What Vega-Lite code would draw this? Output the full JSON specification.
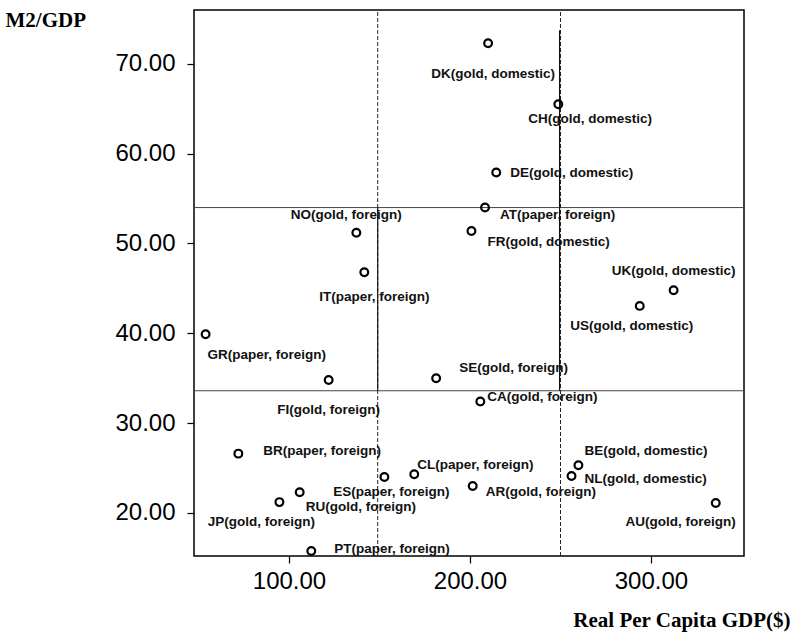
{
  "$schema": "https://vega.github.io/schema/vega-lite/v6.json",
  "width": 550,
  "height": 546,
  "autosize": "none",
  "padding": {"left": 194, "top": 10, "right": 50, "bottom": 79},
  "background": "white",
  "config": {
    "view": {"stroke": "#000", "strokeWidth": 1.5},
    "axis": {"grid": false, "domain": false, "tickColor": "#000", "tickSize": 7, "tickWidth": 1.2, "labelColor": "#000", "labelFont": "Liberation Sans", "labelFontSize": 24, "labelFontWeight": "normal", "titleColor": "#000", "titleFont": "Liberation Serif", "titleFontSize": 21, "titleFontWeight": "bold"}
  },
  "datasets": {
    "points": [
      {"code": "DK", "label": "DK(gold, domestic)", "gdp": 210.0, "m2": 72.3},
      {"code": "CH", "label": "CH(gold, domestic)", "gdp": 248.8, "m2": 65.5},
      {"code": "DE", "label": "DE(gold, domestic)", "gdp": 214.5, "m2": 57.9},
      {"code": "AT", "label": "AT(paper, foreign)", "gdp": 208.3, "m2": 54.0},
      {"code": "NO", "label": "NO(gold, foreign)", "gdp": 137.2, "m2": 51.2},
      {"code": "FR", "label": "FR(gold, domestic)", "gdp": 200.8, "m2": 51.4},
      {"code": "IT", "label": "IT(paper, foreign)", "gdp": 141.6, "m2": 46.8},
      {"code": "UK", "label": "UK(gold, domestic)", "gdp": 312.5, "m2": 44.8},
      {"code": "US", "label": "US(gold, domestic)", "gdp": 293.8, "m2": 43.05},
      {"code": "GR", "label": "GR(paper, foreign)", "gdp": 53.9, "m2": 39.9},
      {"code": "FI", "label": "FI(gold, foreign)", "gdp": 121.9, "m2": 34.8},
      {"code": "SE", "label": "SE(gold, foreign)", "gdp": 181.3, "m2": 35.0},
      {"code": "CA", "label": "CA(gold, foreign)", "gdp": 205.7, "m2": 32.4},
      {"code": "BR", "label": "BR(paper, foreign)", "gdp": 72.0, "m2": 26.6},
      {"code": "CL", "label": "CL(paper, foreign)", "gdp": 169.2, "m2": 24.3},
      {"code": "ES", "label": "ES(paper, foreign)", "gdp": 152.7, "m2": 24.0},
      {"code": "AR", "label": "AR(gold, foreign)", "gdp": 201.5, "m2": 23.0},
      {"code": "BE", "label": "BE(gold, domestic)", "gdp": 259.9, "m2": 25.3},
      {"code": "NL", "label": "NL(gold, domestic)", "gdp": 256.1, "m2": 24.1},
      {"code": "RU", "label": "RU(gold, foreign)", "gdp": 105.9, "m2": 22.3},
      {"code": "JP", "label": "JP(gold, foreign)", "gdp": 94.7, "m2": 21.2},
      {"code": "AU", "label": "AU(gold, foreign)", "gdp": 335.8, "m2": 21.1},
      {"code": "PT", "label": "PT(paper, foreign)", "gdp": 112.3, "m2": 15.75}
    ],
    "hlines": [
      {"m2": 54.0, "gdp": 47.5, "gdpEnd": 351.4},
      {"m2": 33.6, "gdp": 47.5, "gdpEnd": 351.4}
    ],
    "vdash": [
      {"gdp": 149, "m2": 15.2, "m2End": 76.0},
      {"gdp": 250, "m2": 15.2, "m2End": 76.0}
    ],
    "vsolid": [
      {"gdp": 149, "m2": 33.6, "m2End": 54.0},
      {"gdp": 249.5, "m2": 33.6, "m2End": 73.75}
    ]
  },
  "encoding": {
    "x": {"field": "gdp", "type": "quantitative", "scale": {"domain": [47.5, 351.4], "nice": false, "zero": false},
      "axis": {"values": [100, 200, 300], "format": ".2f", "labelPadding": 6, "title": "Real Per Capita GDP($)", "titleX": 596, "titleY": 64, "titleAlign": "right", "titleBaseline": "middle", "titleAnchor": null}},
    "y": {"field": "m2", "type": "quantitative", "scale": {"domain": [15.2, 76.0], "nice": false, "zero": false},
      "axis": {"values": [20, 30, 40, 50, 60, 70], "format": ".2f", "labelPadding": 12, "title": "M2/GDP", "titleAngle": 0, "titleX": -189, "titleY": 10, "titleAlign": "left", "titleBaseline": "middle", "titleAnchor": null}}
  },
  "layer": [
    {"data": {"name": "hlines"}, "mark": {"type": "rule", "stroke": "#444", "strokeWidth": 1}, "encoding": {"x2": {"field": "gdpEnd"}}},
    {"data": {"name": "vdash"}, "mark": {"type": "rule", "stroke": "#222", "strokeWidth": 1, "strokeDash": [4, 2]}, "encoding": {"y2": {"field": "m2End"}}},
    {"data": {"name": "vsolid"}, "mark": {"type": "rule", "stroke": "#111", "strokeWidth": 1.2}, "encoding": {"y2": {"field": "m2End"}}},
    {"data": {"name": "points"},
      "layer": [
        {"mark": {"type": "point", "shape": "circle", "filled": false, "stroke": "#000", "strokeWidth": 2.2, "size": 60, "opacity": 1}},
        {"transform": [{"filter": "datum.code=='DK'"}], "mark": {"type": "text", "align": "center", "baseline": "middle", "dx": 5, "dy": 31, "font": "Liberation Sans", "fontWeight": "bold", "fontSize": 13.5, "fill": "#111"}, "encoding": {"text": {"field": "label"}}},
        {"transform": [{"filter": "datum.code=='CH'"}], "mark": {"type": "text", "align": "left", "baseline": "middle", "dx": -30, "dy": 15, "font": "Liberation Sans", "fontWeight": "bold", "fontSize": 13.5, "fill": "#111"}, "encoding": {"text": {"field": "label"}}},
        {"transform": [{"filter": "datum.code=='DE'"}], "mark": {"type": "text", "align": "left", "baseline": "middle", "dx": 14, "dy": 0, "font": "Liberation Sans", "fontWeight": "bold", "fontSize": 13.5, "fill": "#111"}, "encoding": {"text": {"field": "label"}}},
        {"transform": [{"filter": "datum.code=='AT'"}], "mark": {"type": "text", "align": "left", "baseline": "middle", "dx": 15, "dy": 7, "font": "Liberation Sans", "fontWeight": "bold", "fontSize": 13.5, "fill": "#111"}, "encoding": {"text": {"field": "label"}}},
        {"transform": [{"filter": "datum.code=='NO'"}], "mark": {"type": "text", "align": "center", "baseline": "middle", "dx": -10, "dy": -18, "font": "Liberation Sans", "fontWeight": "bold", "fontSize": 13.5, "fill": "#111"}, "encoding": {"text": {"field": "label"}}},
        {"transform": [{"filter": "datum.code=='FR'"}], "mark": {"type": "text", "align": "left", "baseline": "middle", "dx": 16, "dy": 11, "font": "Liberation Sans", "fontWeight": "bold", "fontSize": 13.5, "fill": "#111"}, "encoding": {"text": {"field": "label"}}},
        {"transform": [{"filter": "datum.code=='IT'"}], "mark": {"type": "text", "align": "center", "baseline": "middle", "dx": 10, "dy": 25, "font": "Liberation Sans", "fontWeight": "bold", "fontSize": 13.5, "fill": "#111"}, "encoding": {"text": {"field": "label"}}},
        {"transform": [{"filter": "datum.code=='UK'"}], "mark": {"type": "text", "align": "center", "baseline": "middle", "dx": 0, "dy": -19, "font": "Liberation Sans", "fontWeight": "bold", "fontSize": 13.5, "fill": "#111"}, "encoding": {"text": {"field": "label"}}},
        {"transform": [{"filter": "datum.code=='US'"}], "mark": {"type": "text", "align": "center", "baseline": "middle", "dx": -8, "dy": 20, "font": "Liberation Sans", "fontWeight": "bold", "fontSize": 13.5, "fill": "#111"}, "encoding": {"text": {"field": "label"}}},
        {"transform": [{"filter": "datum.code=='GR'"}], "mark": {"type": "text", "align": "left", "baseline": "middle", "dx": 2, "dy": 21, "font": "Liberation Sans", "fontWeight": "bold", "fontSize": 13.5, "fill": "#111"}, "encoding": {"text": {"field": "label"}}},
        {"transform": [{"filter": "datum.code=='FI'"}], "mark": {"type": "text", "align": "center", "baseline": "middle", "dx": 0, "dy": 30, "font": "Liberation Sans", "fontWeight": "bold", "fontSize": 13.5, "fill": "#111"}, "encoding": {"text": {"field": "label"}}},
        {"transform": [{"filter": "datum.code=='SE'"}], "mark": {"type": "text", "align": "left", "baseline": "middle", "dx": 23, "dy": -10, "font": "Liberation Sans", "fontWeight": "bold", "fontSize": 13.5, "fill": "#111"}, "encoding": {"text": {"field": "label"}}},
        {"transform": [{"filter": "datum.code=='CA'"}], "mark": {"type": "text", "align": "left", "baseline": "middle", "dx": 7, "dy": -5, "font": "Liberation Sans", "fontWeight": "bold", "fontSize": 13.5, "fill": "#111"}, "encoding": {"text": {"field": "label"}}},
        {"transform": [{"filter": "datum.code=='BR'"}], "mark": {"type": "text", "align": "left", "baseline": "middle", "dx": 25, "dy": -3, "font": "Liberation Sans", "fontWeight": "bold", "fontSize": 13.5, "fill": "#111"}, "encoding": {"text": {"field": "label"}}},
        {"transform": [{"filter": "datum.code=='CL'"}], "mark": {"type": "text", "align": "left", "baseline": "middle", "dx": 3, "dy": -9, "font": "Liberation Sans", "fontWeight": "bold", "fontSize": 13.5, "fill": "#111"}, "encoding": {"text": {"field": "label"}}},
        {"transform": [{"filter": "datum.code=='ES'"}], "mark": {"type": "text", "align": "center", "baseline": "middle", "dx": 7, "dy": 15, "font": "Liberation Sans", "fontWeight": "bold", "fontSize": 13.5, "fill": "#111"}, "encoding": {"text": {"field": "label"}}},
        {"transform": [{"filter": "datum.code=='AR'"}], "mark": {"type": "text", "align": "left", "baseline": "middle", "dx": 13, "dy": 6, "font": "Liberation Sans", "fontWeight": "bold", "fontSize": 13.5, "fill": "#111"}, "encoding": {"text": {"field": "label"}}},
        {"transform": [{"filter": "datum.code=='BE'"}], "mark": {"type": "text", "align": "left", "baseline": "middle", "dx": 6, "dy": -14, "font": "Liberation Sans", "fontWeight": "bold", "fontSize": 13.5, "fill": "#111"}, "encoding": {"text": {"field": "label"}}},
        {"transform": [{"filter": "datum.code=='NL'"}], "mark": {"type": "text", "align": "left", "baseline": "middle", "dx": 13, "dy": 3, "font": "Liberation Sans", "fontWeight": "bold", "fontSize": 13.5, "fill": "#111"}, "encoding": {"text": {"field": "label"}}},
        {"transform": [{"filter": "datum.code=='RU'"}], "mark": {"type": "text", "align": "left", "baseline": "middle", "dx": 6, "dy": 15, "font": "Liberation Sans", "fontWeight": "bold", "fontSize": 13.5, "fill": "#111"}, "encoding": {"text": {"field": "label"}}},
        {"transform": [{"filter": "datum.code=='JP'"}], "mark": {"type": "text", "align": "center", "baseline": "middle", "dx": -18, "dy": 20, "font": "Liberation Sans", "fontWeight": "bold", "fontSize": 13.5, "fill": "#111"}, "encoding": {"text": {"field": "label"}}},
        {"transform": [{"filter": "datum.code=='AU'"}], "mark": {"type": "text", "align": "right", "baseline": "middle", "dx": 20, "dy": 19, "font": "Liberation Sans", "fontWeight": "bold", "fontSize": 13.5, "fill": "#111"}, "encoding": {"text": {"field": "label"}}},
        {"transform": [{"filter": "datum.code=='PT'"}], "mark": {"type": "text", "align": "left", "baseline": "middle", "dx": 23, "dy": -2, "font": "Liberation Sans", "fontWeight": "bold", "fontSize": 13.5, "fill": "#111"}, "encoding": {"text": {"field": "label"}}}
      ]
    }
  ]
}
